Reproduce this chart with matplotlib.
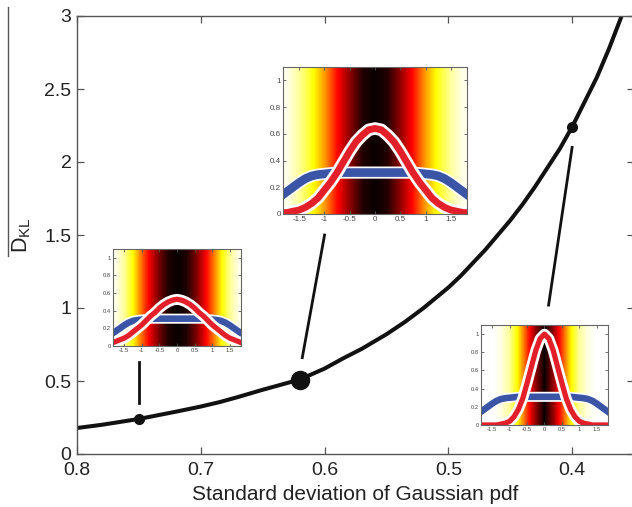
import numpy as np
import matplotlib
matplotlib.use('Agg')
import matplotlib.pyplot as plt
from matplotlib.lines import Line2D

plt.rcParams['font.family'] = ['Liberation Sans', 'DejaVu Sans']
plt.rcParams['mathtext.fontset'] = 'custom'
plt.rcParams['mathtext.rm'] = 'Liberation Sans'
plt.rcParams['mathtext.it'] = 'Liberation Sans'

# KL divergence vs. width of the fitted Gaussian
sigma = [0.80, 0.78, 0.765, 0.75, 0.72, 0.70, 0.685, 0.67, 0.65, 0.635,
         0.62, 0.60, 0.585, 0.57, 0.55, 0.535, 0.52, 0.51, 0.50, 0.49,
         0.48, 0.47, 0.46, 0.45, 0.44, 0.43, 0.42, 0.41, 0.40, 0.39,
         0.38, 0.37, 0.36, 0.355]
dkl = [0.178, 0.20, 0.22, 0.24, 0.29, 0.325, 0.355, 0.39, 0.44, 0.475,
       0.51, 0.585, 0.655, 0.72, 0.82, 0.905, 1.00, 1.07, 1.14, 1.22,
       1.31, 1.40, 1.50, 1.60, 1.71, 1.83, 1.96, 2.09, 2.24, 2.41,
       2.58, 2.78, 3.00, 3.10]

mark_sigma = [0.75, 0.62, 0.40]
mark_dkl = [0.24, 0.51, 2.24]
mark_size = [7, 13, 7]

# inset profiles, x >= 0 half (curves are symmetric)
curve_x = [0, 0.125, 0.25, 0.375, 0.5, 0.625, 0.75, 0.875, 1.0, 1.125,
           1.25, 1.375, 1.5, 1.625, 1.75, 1.875]
blue = [0.31, 0.31, 0.31, 0.31, 0.31, 0.31, 0.31, 0.305, 0.30, 0.295,
        0.285, 0.265, 0.235, 0.20, 0.165, 0.13]
red_075 = [0.53, 0.52, 0.50, 0.47, 0.43, 0.38, 0.34, 0.29, 0.24, 0.20,
           0.16, 0.12, 0.09, 0.07, 0.05, 0.03]
red_062 = [0.64, 0.63, 0.59, 0.54, 0.47, 0.39, 0.31, 0.24, 0.18, 0.12,
           0.08, 0.05, 0.03, 0.02, 0.01, 0.01]
red_040 = [1.00, 0.95, 0.82, 0.64, 0.46, 0.29, 0.17, 0.09, 0.04, 0.02,
           0.01, 0.0, 0.0, 0.0, 0.0, 0.0]

heat_x = [0, 0.25, 0.5, 0.75, 1.0, 1.25, 1.5, 1.75]
heat_075 = [0.0, 0.03, 0.15, 0.32, 0.52, 0.74, 0.90, 0.98]
heat_062 = [0.0, 0.04, 0.20, 0.38, 0.60, 0.77, 0.90, 0.98]
heat_040 = [0.0, 0.20, 0.45, 0.72, 0.90, 0.97, 1.0, 1.0]

inset_ticks_x = [-1.5, -1, -0.5, 0, 0.5, 1, 1.5]
inset_ticks_y = [0, 0.2, 0.4, 0.6, 0.8, 1]

TXT = '#222222'
SPINE = '#555555'
RED = '#e3202a'
BLUE = '#3a55a5'


def mirror(v):
    v = np.asarray(v, dtype=float)
    return np.concatenate([v[:0:-1], v])


def mirror_x(x):
    x = np.asarray(x, dtype=float)
    return np.concatenate([-x[:0:-1], x])


def inset(fig, rect, heat, red, fs, lw):
    ax = fig.add_axes(rect)
    hx = mirror_x(heat_x)
    step = hx[1] - hx[0]
    ax.imshow(mirror(heat)[None, :], cmap='hot', vmin=0, vmax=1, aspect='auto',
              interpolation='bilinear',
              extent=[hx[0] - step / 2, hx[-1] + step / 2, 0, 1.1])
    cx = mirror_x(curve_x)
    ax.plot(cx, mirror(blue), color='white', lw=lw * 1.25 + 2.5,
            solid_capstyle='butt')
    ax.plot(cx, mirror(blue), color=BLUE, lw=lw * 1.25, solid_capstyle='butt')
    ax.plot(cx, mirror(red), color='white', lw=lw + 4, solid_capstyle='butt')
    ax.plot(cx, mirror(red), color=RED, lw=lw, solid_capstyle='butt')
    ax.set_xlim(-1.82, 1.82)
    ax.set_ylim(0, 1.1)
    ax.set_xticks(inset_ticks_x)
    ax.set_xticklabels(['-1.5', '-1', '-0.5', '0', '0.5', '1', '1.5'])
    ax.set_yticks(inset_ticks_y)
    ax.set_yticklabels(['0', '0.2', '0.4', '0.6', '0.8', '1'])
    ax.tick_params(direction='in', length=2, width=0.6, labelsize=fs,
                   colors=SPINE, labelcolor='#444444', pad=1.5,
                   top=True, right=True)
    for s in ax.spines.values():
        s.set_color('#666666')
        s.set_linewidth(0.8)
    return ax


fig = plt.figure(figsize=(6.32, 5.07), dpi=100)
ax = fig.add_axes([77 / 632, 53 / 507, 557 / 632, 438 / 507])

ax.plot(sigma, dkl, color='#111111', lw=2.9, solid_capstyle='butt')
for s, d, m in zip(mark_sigma, mark_dkl, mark_size):
    ax.plot(s, d, 'o', color='#111111', ms=m)

# pointers from the curve to the insets
for (x0, y0), (x1, y1) in [((0.75, 0.35), (0.75, 0.63)),
                           ((0.618, 0.66), (0.600, 1.50)),
                           ((0.419, 1.02), (0.400, 2.10))]:
    ax.plot([x0, x1], [y0, y1], color='#111111', lw=2.0)

ax.set_xlim(0.8, 0.35)
ax.set_ylim(0, 3)
ax.set_xticks([0.8, 0.7, 0.6, 0.5, 0.4])
ax.set_xticklabels(['0.8', '0.7', '0.6', '0.5', '0.4'])
ax.set_yticks([0, 0.5, 1, 1.5, 2, 2.5, 3])
ax.set_yticklabels(['0', '0.5', '1', '1.5', '2', '2.5', '3'])
ax.tick_params(direction='in', length=5, width=0.9, labelsize=14,
               colors=SPINE, labelcolor=TXT, pad=4, top=True, right=True)
ax.tick_params(axis='x', pad=6)
for s in ax.spines.values():
    s.set_color(SPINE)
    s.set_linewidth(1.0)

ax.set_xlabel('Standard deviation of Gaussian pdf', fontsize=15, color=TXT,
              labelpad=4)

fig.text(10 / 632, 1 - 235 / 507, r'$\mathrm{D_{KL}}$', fontsize=15.5,
         color=TXT, rotation=90, ha='left', va='center')
fig.add_artist(Line2D([8 / 632, 8 / 632], [1 - 7 / 507, 1 - 256 / 507],
                      color=SPINE, lw=1.0))

inset(fig, [113 / 632, 161 / 507, 128 / 632, 97 / 507], heat_075, red_075, 4.2, 3.8)
inset(fig, [283 / 632, 293 / 507, 184 / 632, 147 / 507], heat_062, red_062, 5.8, 5.0)
inset(fig, [481 / 632, 82 / 507, 127 / 632, 100 / 507], heat_040, red_040, 4.2, 3.8)

fig.savefig('out.png', dpi=100)
